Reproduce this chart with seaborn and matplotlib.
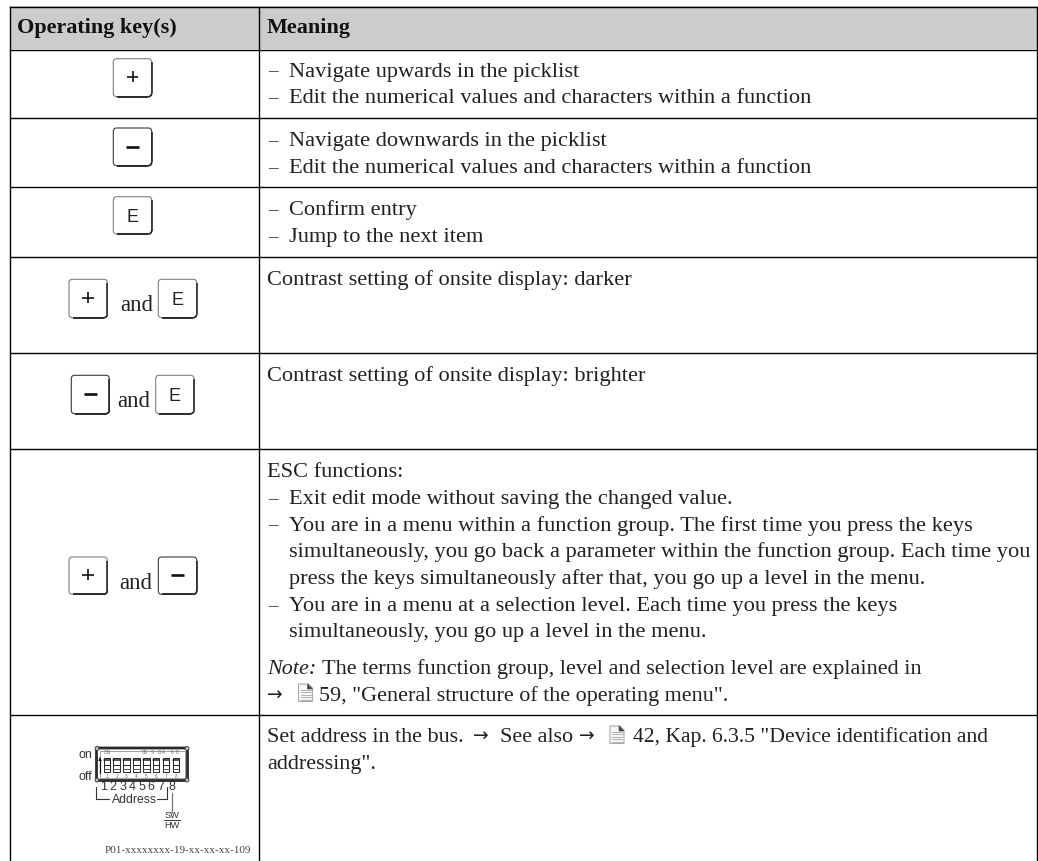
import matplotlib
matplotlib.use("Agg")
import matplotlib.pyplot as plt
import seaborn as sns
import pandas as pd
from matplotlib.patches import FancyBboxPatch, Rectangle, Circle, Polygon, Arc

HEADERS = ["Operating key(s)", "Meaning"]
ROW1 = ["– Navigate upwards in the picklist", "– Edit the numerical values and characters within a function"]
ROW2 = ["– Navigate downwards in the picklist", "– Edit the numerical values and characters within a function"]
ROW3 = ["– Confirm entry", "– Jump to the next item"]
ROW4 = ["Contrast setting of onsite display: darker"]
ROW5 = ["Contrast setting of onsite display: brighter"]
ROW6 = ["ESC functions:",
        "– Exit edit mode without saving the changed value.",
        "– You are in a menu within a function group. The first time you press the keys",
        "  simultaneously, you go back a parameter within the function group. Each time you",
        "  press the keys simultaneously after that, you go up a level in the menu.",
        "– You are in a menu at a selection level. Each time you press the keys",
        "  simultaneously, you go up a level in the menu."]
NOTE_LEAD = "Note:"
NOTE_REST = "The terms function group, level and selection level are explained in"
ARROW = "→"
NOTE_REF = "59, \"General structure of the operating menu\"."
ADDR_A = "Set address in the bus."
ADDR_B = "See also"
ADDR_C = "42, Kap. 6.3.5 \"Device identification and"
ADDR_D = "addressing\"."
AND = "and"
FIGCODE = "P01-xxxxxxxx-19-xx-xx-xx-109"
DIP_NUMBERS = ["1", "2", "3", "4", "5", "6", "7", "8"]
DIP_TOP = ["CK", "S", "D", "A", "0", "8"]

SERIF = "Liberation Serif"
SANS = "Liberation Sans"
INK = "#222222"
FS = 16.15

sns.set_theme(style="white")
W, H = 1038, 861
fig = plt.figure(figsize=(W / 100, H / 100), dpi=100, facecolor="white")

# header band as a one-cell heatmap
band = fig.add_axes([10 / W, 1 - 49 / H, 1027 / W, 43 / H])
sns.heatmap(pd.DataFrame([[0]]), ax=band, cmap=["#cccccc"], cbar=False,
            xticklabels=False, yticklabels=False)

ax = fig.add_axes([0, 0, 1, 1], facecolor="none")

# table rules
rules = pd.DataFrame(
    [(i, x, y) for i, seg in enumerate(
        [[(9.5, 6.5), (1037.4, 6.5)]] +
        [[(9.5, y), (1037.4, y)] for y in (49.5, 118, 187, 257.3, 353.3, 449.3, 715.3)] +
        [[(9.5, 6.5), (9.5, 861)], [(258.5, 6.5), (258.5, 861)], [(1037.4, 6.5), (1037.4, 861)]]
    ) for x, y in seg], columns=["unit", "x", "y"])
sns.lineplot(data=rules, x="x", y="y", units="unit", estimator=None, sort=False,
             color="black", lw=1.0, legend=False, ax=ax, solid_capstyle="projecting")
ax.set_xlim(0, W)
ax.set_ylim(H, 0)
ax.axis("off")


def txt(x, y, s, size=FS, family=SERIF, color=INK, **kw):
    kw.setdefault("va", "baseline")
    return ax.text(x, y, s, fontsize=size, family=family, color=color, **kw)


def lines(block, start, step=26.75):
    for i, s in enumerate(block):
        y = start + i * step
        if s.startswith("– "):
            txt(268, y, "–", size=FS * 0.85)
            txt(289, y, s[2:])
        elif s.startswith("  "):
            txt(289, y, s[2:])
        else:
            txt(267, y, s)


def key(x0, y0, x1, y1, label, dark_top=False):
    r = 3.5
    ax.add_patch(FancyBboxPatch((x0 + r, y0 + r), x1 - x0 - 2 * r, y1 - y0 - 2 * r,
                                boxstyle=f"round,pad={r},rounding_size={r}",
                                fc="white", ec="#3a3a3a" if dark_top else "#808080", lw=0.8))
    ax.plot([x1, x1], [y0 + r, y1 - r], color="#222222", lw=1.1, solid_capstyle="butt")
    ax.plot([x0 + r, x1 - r], [y1, y1], color="#222222", lw=1.3, solid_capstyle="butt")
    ax.add_patch(Arc((x1 - r, y1 - r), 2 * r, 2 * r, theta1=0, theta2=90, color="#222222", lw=1.2))
    cx, cy = (x0 + x1) / 2, (y0 + y1) / 2
    if label == "−":
        ax.plot([cx - 6.5, cx + 6.5], [cy - 0.3, cy - 0.3], color="#111111", lw=1.9, solid_capstyle="butt")
    elif label == "+":
        ax.plot([cx - 5.7, cx + 5.7], [cy - 1, cy - 1], color="#111111", lw=1.2, solid_capstyle="butt")
        ax.plot([cx, cx], [cy - 6.7, cy + 4.7], color="#111111", lw=1.2, solid_capstyle="butt")
    else:
        txt(cx, cy + 6.5, label, size=13, family=SANS, color="#222222", ha="center")


def page(x0, y0):
    w, h = 14, 17.5
    ax.add_patch(Polygon([(x0, y0), (x0 + w - 4, y0), (x0 + w, y0 + 4), (x0 + w, y0 + h), (x0, y0 + h)],
                         closed=True, fc="#f6f6f6", ec="#aaaaaa", lw=0.8))
    ax.add_patch(Polygon([(x0 + w - 5, y0), (x0 + w, y0 + 5), (x0 + w - 5, y0 + 5)],
                         closed=True, fc="#444444", ec="#444444", lw=0.4))
    for dy in (5.5, 8, 10.5, 13, 15.5):
        ax.plot([x0 + 2, x0 + w - 2], [y0 + dy, y0 + dy], color="#b0b0b0", lw=0.7)


# header text
txt(17, 33.5, HEADERS[0], size=15.9, weight="bold", color="#111111")
txt(267, 33.5, HEADERS[1], size=15.9, weight="bold", color="#111111")

# meaning column
lines(ROW1, 76.5)
lines(ROW2, 146)
lines(ROW3, 215)
lines(ROW4, 285)
lines(ROW5, 380.5)
lines(ROW6, 477)
txt(267, 674, NOTE_LEAD, style="italic", size=15.9)
txt(322, 674, NOTE_REST, size=16.0)
txt(267, 701, ARROW, family="DejaVu Sans", size=13.5)
page(298.5, 684)
txt(319, 701, NOTE_REF, size=15.9)
txt(267, 742, ADDR_A, size=15.9)
txt(473, 742, ARROW, family="DejaVu Sans", size=13.5)
txt(500, 742, ADDR_B, size=15.9)
txt(579, 742, ARROW, family="DejaVu Sans", size=13.5)
page(610, 726)
txt(633, 742, ADDR_C, size=15.6)
txt(267, 769, ADDR_D, size=15.9)

# keys
key(113.3, 58.7, 151.7, 96.7, "+")
key(113.3, 128, 151.7, 165.7, "−", dark_top=True)
key(113.3, 196.7, 151.7, 234, "E")
key(69, 279.3, 107.3, 317.7, "+")
txt(120, 311, AND, size=16.4)
key(158.3, 279.3, 196.7, 317.7, "E")
key(71.3, 375.3, 109.3, 413.7, "−", dark_top=True)
txt(117, 407, AND, size=16.4)
key(155.7, 375.3, 194, 413.7, "E")
key(69, 557, 107.3, 594.3, "+")
txt(119, 589, AND, size=16.4)
key(158.3, 557, 196.7, 594.3, "−", dark_top=True)

# DIP switch
ax.add_patch(FancyBboxPatch((97, 748.5), 90, 31.5, boxstyle="round,pad=0.5,rounding_size=2",
                            fc="white", ec="#2a2a2a", lw=2.0))
ax.add_patch(Rectangle((99.5, 751), 85, 26.5, fc="white", ec="#777777", lw=0.5))
for cx, cy in ((97, 748.5), (187, 748.5), (97, 780), (187, 780)):
    ax.add_patch(Circle((cx, cy), 2.0, fc="#bbbbbb", ec="#333333", lw=0.6))
for i, n in enumerate(DIP_NUMBERS):
    x = 106.7 + i * 9.9
    ax.add_patch(Rectangle((x - 3.2, 758), 6.4, 14.3, fc="white", ec="#222222", lw=0.7))
    ax.plot([x - 3.2, x + 3.2], [760, 760], color="#222222", lw=1.1)
    ax.plot([x - 3.2, x + 3.2], [765, 765], color="#222222", lw=0.7)
    ax.plot([x - 3.2, x + 3.2], [769, 769], color="#555555", lw=0.7)
    txt(x, 777.5, n, size=3.4, family=SANS, color="#666666", ha="center")
    cxn = 103.7 + i * 9.5 if i < 7 else 171.5
    txt(cxn, 790.5, n, size=9, family=SANS, color="#333333", ha="center")
txt(107.5, 753.5, "ON", size=3.4, family=SANS, color="#666666", ha="center")
for xt, s in zip((145, 152, 159, 164, 172, 177), DIP_TOP):
    txt(xt, 753.5, s, size=3.4, family=SANS, color="#666666", ha="center")
ax.plot([100, 100], [773, 760], color="#111111", lw=0.9)
ax.add_patch(Polygon([(98.3, 761), (101.7, 761), (100, 756.5)], closed=True, fc="#111111", ec="none"))
txt(92.5, 758, "on", size=9, family=SANS, color="#333333", ha="right")
txt(92.5, 780, "off", size=9, family=SANS, color="#333333", ha="right")
ax.plot([96, 96, 109], [787, 799, 799], color="#333333", lw=0.8)
ax.plot([157, 167, 167], [799, 799, 787], color="#333333", lw=0.8)
txt(134, 803, "Address", size=8.7, family=SANS, color="#333333", ha="center")
ax.plot([171.7, 171.7], [793, 813], color="#777777", lw=0.9)
txt(172, 818.5, "SW", size=6.7, family=SANS, color="#333333", ha="center")
ax.plot([164, 180], [819.8, 819.8], color="#333333", lw=0.7)
txt(172, 828.5, "HW", size=6.7, family=SANS, color="#333333", ha="center")
txt(105, 853, FIGCODE, size=8.0, color="#444444")

fig.savefig("out.png", dpi=100)
